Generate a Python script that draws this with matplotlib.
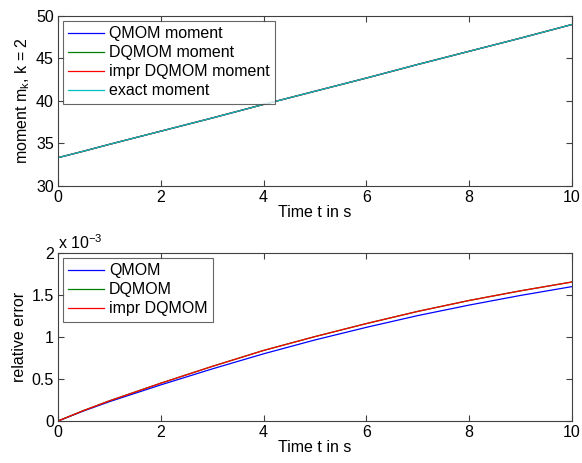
import matplotlib
matplotlib.use("Agg")
import matplotlib.pyplot as plt
import numpy as np

plt.rcParams['font.family'] = ['Liberation Sans', 'DejaVu Sans']
plt.rcParams['mathtext.fontset'] = 'custom'
plt.rcParams['mathtext.rm'] = 'Liberation Sans'
plt.rcParams['mathtext.it'] = 'Liberation Sans'

t = [0, 0.5, 1, 2, 3, 4, 5, 6, 7, 8, 9, 10]
moment_exact = [33.33, 34.1, 34.9, 36.45, 38.0, 39.6, 41.15, 42.7, 44.3, 45.85, 47.4, 49.0]
moment_qmom = moment_exact
moment_dqmom = moment_exact
moment_impr = moment_exact

err_qmom = [0, 0.12, 0.23, 0.43, 0.62, 0.80, 0.965, 1.115, 1.255, 1.38, 1.495, 1.60]
err_dqmom = [0, 0.125, 0.24, 0.45, 0.65, 0.84, 1.005, 1.16, 1.305, 1.435, 1.55, 1.655]
err_impr = [0, 0.125, 0.24, 0.45, 0.65, 0.84, 1.005, 1.16, 1.305, 1.435, 1.55, 1.655]

xticks = [0, 2, 4, 6, 8, 10]
yticks_top = [30, 35, 40, 45, 50]
yticks_bot = [0, 0.5, 1, 1.5, 2]
ytick_bot_labels = ['0', '0.5', '1', '1.5', '2']

c_blue = '#0000ff'
c_green = '#008000'
c_red = '#ff0000'
c_cyan = '#00bfbf'
frame = '#404040'
lw = 0.9
fs = 11.5

fig = plt.figure(figsize=(5.82, 4.63), dpi=100)
ax1 = fig.add_axes([58/582, 1-186/463, (572-58)/582, (186-16)/463])
ax2 = fig.add_axes([58/582, 1-421/463, (572-58)/582, (421-253)/463])

def style(ax):
    for s in ax.spines.values():
        s.set_color(frame)
        s.set_linewidth(0.8)
    ax.tick_params(direction='in', top=True, right=True, length=4, width=0.8,
                   color=frame, labelsize=fs, pad=3)
    ax.set_xlim(0, 10)
    ax.set_xticks(xticks)

ax1.plot(t, moment_qmom, color=c_blue, lw=lw, label='QMOM moment')
ax1.plot(t, moment_dqmom, color=c_green, lw=lw, label='DQMOM moment')
ax1.plot(t, moment_impr, color=c_red, lw=lw, label='impr DQMOM moment')
ax1.plot(t, moment_exact, color=c_cyan, lw=lw, label='exact moment')
style(ax1)
ax1.set_ylim(30, 50)
ax1.set_yticks(yticks_top)
ax1.set_xlabel('Time t in s', fontsize=fs, labelpad=0)
ax1.set_ylabel('moment m$_{k}$, k = 2', fontsize=fs, labelpad=3)
leg1 = ax1.legend(loc='upper left', fontsize=fs, frameon=True, fancybox=False,
                  edgecolor=frame, handlelength=2.2, handletextpad=0.35,
                  borderaxespad=0.3, labelspacing=0.25, borderpad=0.35)
leg1.get_frame().set_linewidth(0.8)

ax2.plot(t, err_qmom, color=c_blue, lw=lw, label='QMOM')
ax2.plot(t, err_dqmom, color=c_green, lw=lw, label='DQMOM')
ax2.plot(t, err_impr, color=c_red, lw=lw, label='impr DQMOM')
style(ax2)
ax2.set_ylim(0, 2)
ax2.set_yticks(yticks_bot)
ax2.set_yticklabels(ytick_bot_labels)
ax2.set_xlabel('Time t in s', fontsize=fs, labelpad=0)
ax2.set_ylabel('relative error', fontsize=fs, labelpad=3)
ax2.text(0.0, 1.005, 'x 10$^{-3}$', transform=ax2.transAxes, fontsize=fs,
         ha='left', va='bottom')
leg2 = ax2.legend(loc='upper left', fontsize=fs, frameon=True, fancybox=False,
                  edgecolor=frame, handlelength=2.2, handletextpad=0.35,
                  borderaxespad=0.3, labelspacing=0.25, borderpad=0.35)
leg2.get_frame().set_linewidth(0.8)

fig.savefig('out.png', dpi=100)
